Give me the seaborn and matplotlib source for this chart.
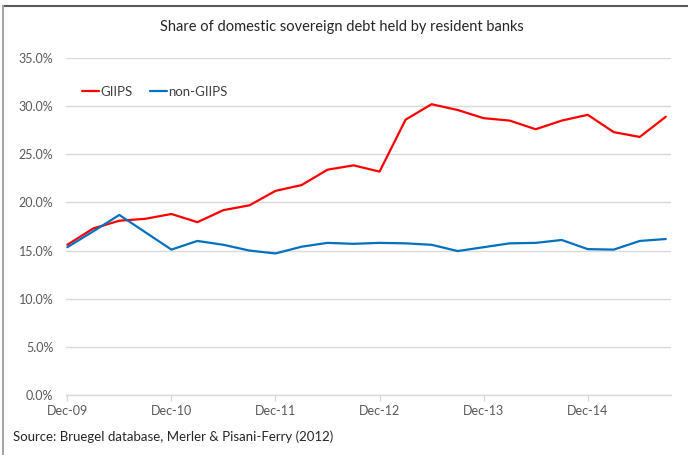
import matplotlib
matplotlib.use("Agg")
import matplotlib.pyplot as plt
from matplotlib.lines import Line2D
from matplotlib.ticker import FuncFormatter
import seaborn as sns
import pandas as pd

quarters = ["Dec-09", "Mar-10", "Jun-10", "Sep-10", "Dec-10", "Mar-11", "Jun-11", "Sep-11",
            "Dec-11", "Mar-12", "Jun-12", "Sep-12", "Dec-12", "Mar-13", "Jun-13", "Sep-13",
            "Dec-13", "Mar-14", "Jun-14", "Sep-14", "Dec-14", "Mar-15", "Jun-15", "Sep-15"]
giips = [15.6, 17.3, 18.1, 18.3, 18.8, 17.95, 19.2, 19.7, 21.2, 21.8, 23.4, 23.85,
         23.2, 28.6, 30.2, 29.6, 28.75, 28.5, 27.6, 28.5, 29.1, 27.3, 26.8, 28.9]
non_giips = [15.35, 17.0, 18.7, 16.9, 15.1, 16.0, 15.6, 15.0, 14.7, 15.4, 15.8, 15.7,
             15.8, 15.75, 15.6, 14.95, 15.35, 15.75, 15.8, 16.1, 15.15, 15.1, 16.0, 16.2]
tick_labels = ["Dec-09", "Dec-10", "Dec-11", "Dec-12", "Dec-13", "Dec-14"]
series_names = ["GIIPS", "non-GIIPS"]
colors = {"GIIPS": "#ff0000", "non-GIIPS": "#0070c0"}

n = len(quarters)
df = pd.DataFrame({
    "idx": list(range(n)) * 2,
    "value": [v / 100 for v in giips] + [v / 100 for v in non_giips],
    "series": [series_names[0]] * n + [series_names[1]] * n,
})

sns.set_theme(style="white")
plt.rcParams["font.family"] = ["Lato", "DejaVu Sans"]

W, H = 688, 455
fig = plt.figure(figsize=(W / 100, H / 100), dpi=100)
ax = fig.add_axes([66 / W, (H - 395) / H, (671 - 66) / W, (395 - 58) / H])

sns.lineplot(data=df, x="idx", y="value", hue="series", palette=colors,
             linewidth=1.6, ax=ax, legend=True)

ax.set_xlim(-0.05, 23.2)
ax.set_ylim(0, 0.35)
ax.set_yticks([i * 0.05 for i in range(8)])
ax.yaxis.set_major_formatter(FuncFormatter(lambda v, p: f"{v*100:.1f}%"))
ax.set_xticks([quarters.index(t) for t in tick_labels])
ax.set_xticklabels(tick_labels)
ax.set_xlabel("")
ax.set_ylabel("")
ax.grid(axis="y", color="#d9d9d9", linewidth=1)
ax.set_axisbelow(True)
for s in ["top", "right", "left"]:
    ax.spines[s].set_visible(False)
ax.spines["bottom"].set_color("#d9d9d9")
ax.spines["bottom"].set_linewidth(1)
ax.tick_params(axis="y", length=0, pad=9, labelsize=9, labelcolor="#595959")
ax.tick_params(axis="x", length=4, width=1, color="#d9d9d9", direction="out", pad=3,
               labelsize=9, labelcolor="#595959", bottom=True)

handles, labels = ax.get_legend_handles_labels()
ax.legend(handles, labels, loc="upper left", bbox_to_anchor=(70 / W, (H - 74) / H),
          bbox_transform=fig.transFigure, ncol=2, frameon=False, fontsize=9.5,
          handlelength=1.3, handletextpad=0.1, columnspacing=1.3, labelcolor="#404040")

fig.text(342 / W, 1 - 27 / H, "Share of domestic sovereign debt held by resident banks",
         ha="center", va="center", fontsize=10.5, color="#262626")
fig.text(13 / W, 1 - 437 / H, "Source: Bruegel database, Merler & Pisani-Ferry (2012)",
         ha="left", va="center", fontsize=9.5, color="#262626")

fig.add_artist(Line2D([3 / W, 1], [1 - 6 / H, 1 - 6 / H], transform=fig.transFigure,
                      color="#595959", linewidth=1.5))
fig.add_artist(Line2D([3 / W, 3 / W], [0, 1 - 6 / H], transform=fig.transFigure,
                      color="#a6a6a6", linewidth=1.5))

fig.savefig("out.png", dpi=100)
